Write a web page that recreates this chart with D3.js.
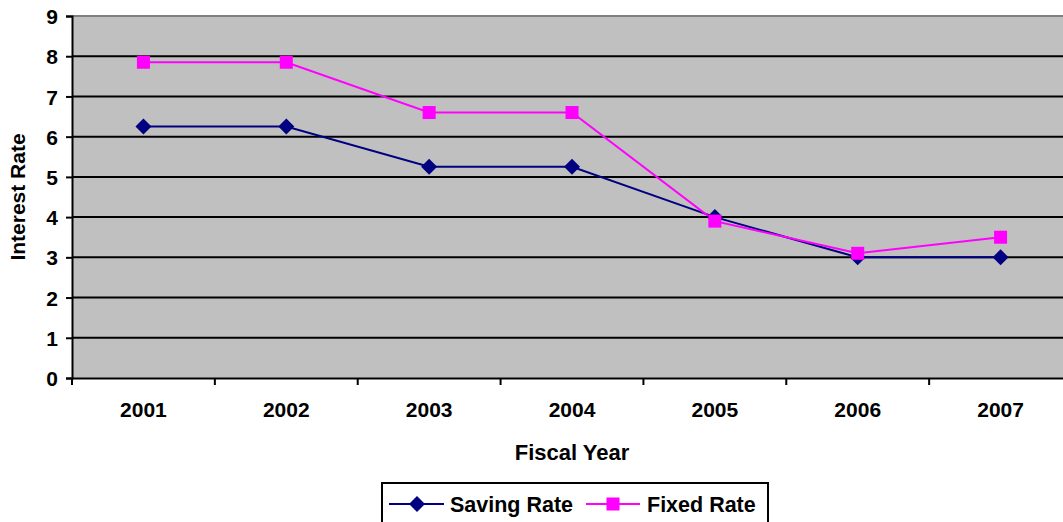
<!DOCTYPE html>
<html><head><meta charset="utf-8">
<script src="https://cdn.jsdelivr.net/npm/d3@7/dist/d3.min.js"></script>
<style>body{margin:0;background:#fff}svg{display:block}text{font-family:"Liberation Sans",Arial,sans-serif;font-weight:bold}</style>
</head><body><svg id="c" width="1063" height="522"></svg>
<script>
const years = ["2001","2002","2003","2004","2005","2006","2007"];
const savingRate = [6.25,6.25,5.25,5.25,4,3,3];
const fixedRate = [7.85,7.85,6.6,6.6,3.9,3.1,3.5];
const yTicks = [0,1,2,3,4,5,6,7,8,9];

const svg = d3.select("#c");
const L=72, R=1072, T=16, B=378;
const x = d3.scaleBand().domain(years).range([L,R]);
const y = d3.scaleLinear().domain([0,9]).range([B,T]);

svg.append("rect").attr("x",L).attr("y",T).attr("width",R-L).attr("height",B-T).attr("fill","#c0c0c0");
svg.append("line").attr("x1",L).attr("x2",R).attr("y1",T).attr("y2",T).attr("stroke","#808080").attr("stroke-width",2);
svg.append("g").selectAll("line").data(yTicks.filter(d=>d>0&&d<9)).join("line")
  .attr("x1",L).attr("x2",R).attr("y1",d=>y(d)).attr("y2",d=>y(d)).attr("stroke","#000").attr("stroke-width",2);

const yAxis = svg.append("g").attr("transform",`translate(${L},0)`)
  .call(d3.axisLeft(y).tickValues(yTicks).tickSize(6).tickPadding(8).tickFormat(d3.format("d")));
yAxis.select(".domain").attr("stroke","#000").attr("stroke-width",2);
yAxis.selectAll(".tick line").attr("stroke","#000").attr("stroke-width",2);
yAxis.selectAll("text").attr("font-size",21).attr("fill","#000").attr("dy","0.36em");

const xAxis = svg.append("g").attr("transform",`translate(0,${B})`)
  .call(d3.axisBottom(x).tickSize(0).tickPadding(24));
xAxis.select(".domain").attr("stroke","#000").attr("stroke-width",2);
xAxis.selectAll("text").attr("font-size",21).attr("fill","#000");
svg.append("g").selectAll("line").data(years).join("line")
  .attr("x1",d=>x(d)).attr("x2",d=>x(d)).attr("y1",B).attr("y2",B+7).attr("stroke","#000").attr("stroke-width",2);

svg.append("text").attr("x",572).attr("y",460).attr("text-anchor","middle").attr("font-size",22).text("Fiscal Year");
svg.append("text").attr("transform",`translate(25,${(T+B)/2}) rotate(-90)`).attr("text-anchor","middle").attr("font-size",21).text("Interest Rate");

const cx = d=>x(d)+x.bandwidth()/2;
const line = d3.line().x((d,i)=>cx(years[i])).y(d=>y(d));
svg.append("path").datum(savingRate).attr("d",line).attr("fill","none").attr("stroke","#000080").attr("stroke-width",2);
svg.append("path").datum(fixedRate).attr("d",line).attr("fill","none").attr("stroke","#ff00ff").attr("stroke-width",2);

const diamond = (g,cxv,cyv)=>g.append("path").attr("d",`M${cxv},${cyv-8}L${cxv+8},${cyv}L${cxv},${cyv+8}L${cxv-8},${cyv}Z`).attr("fill","#000080");
const square = (g,cxv,cyv)=>g.append("rect").attr("x",cxv-6.5).attr("y",cyv-6.5).attr("width",13).attr("height",13).attr("fill","#ff00ff");
const mk = svg.append("g");
savingRate.forEach((v,i)=>diamond(mk,cx(years[i]),y(v)));
fixedRate.forEach((v,i)=>square(mk,cx(years[i]),y(v)));

const lg = svg.append("g");
lg.append("rect").attr("x",382).attr("y",483).attr("width",386).attr("height",50).attr("fill","#fff").attr("stroke","#000").attr("stroke-width",2);
lg.append("line").attr("x1",389).attr("x2",444).attr("y1",504).attr("y2",504).attr("stroke","#000080").attr("stroke-width",2);
diamond(lg,417,504);
lg.append("text").attr("x",450).attr("y",512).attr("font-size",21.5).text("Saving Rate");
lg.append("line").attr("x1",586).attr("x2",640).attr("y1",504).attr("y2",504).attr("stroke","#ff00ff").attr("stroke-width",2);
square(lg,613,504);
lg.append("text").attr("x",647).attr("y",512).attr("font-size",21.5).text("Fixed Rate");
</script></body></html>
